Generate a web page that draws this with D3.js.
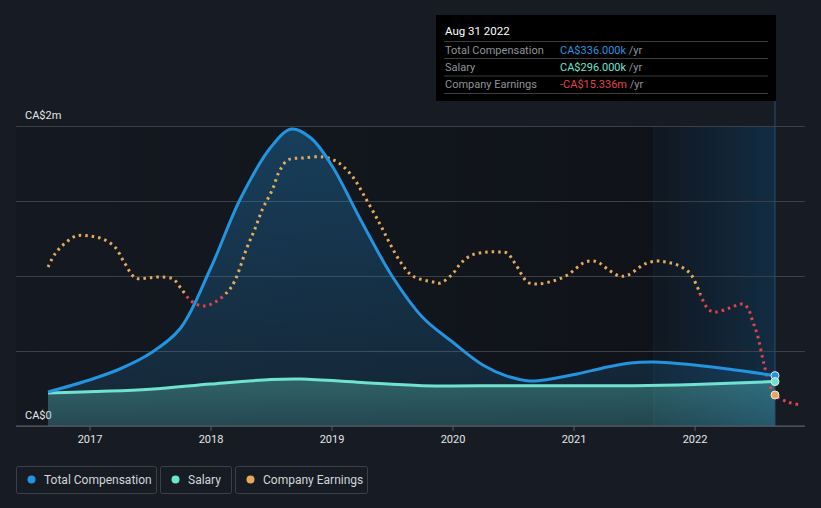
<!DOCTYPE html>
<html>
<head>
<meta charset="utf-8">
<script src="https://cdn.jsdelivr.net/npm/d3@7"></script>
<style>
  html, body { margin: 0; padding: 0; background: #161b24; }
  svg { display: block; font-family: Roboto, "Noto Sans", sans-serif; }
</style>
</head>
<body>
<svg id="chart" width="821" height="508"></svg>
<script>
// ---- data (years as decimal years, values in CA$ millions) ----
const yearTicks = [2017, 2018, 2019, 2020, 2021, 2022];
const yTickValues = [0, 0.5, 1, 1.5, 2];
const yTickLabels = ["CA$0", "", "", "", "CA$2m"];

const compTime = [2016.657, 2017.0, 2017.25, 2017.5, 2017.75, 2018.0, 2018.25, 2018.5, 2018.67, 2018.83, 2019.0, 2019.25, 2019.5, 2019.75, 2020.0, 2020.25, 2020.45, 2020.64, 2020.81, 2021.03, 2021.28, 2021.47, 2021.66, 2022.0, 2022.28, 2022.665];
const compValues = [0.227, 0.307, 0.38, 0.483, 0.65, 1.05, 1.52, 1.86, 1.98, 1.92, 1.74, 1.36, 1.0, 0.727, 0.56, 0.407, 0.333, 0.30, 0.313, 0.347, 0.393, 0.42, 0.427, 0.407, 0.38, 0.336];

const salaryTime = [2016.657, 2017.5, 2018.0, 2018.5, 2018.75, 2019.25, 2019.75, 2020.5, 2021.5, 2022.0, 2022.665];
const salaryValues = [0.22, 0.245, 0.28, 0.31, 0.313, 0.29, 0.269, 0.269, 0.269, 0.277, 0.296];

const earnTime = [2016.657, 2016.72, 2016.80, 2016.89, 2017.0, 2017.11, 2017.21, 2017.29, 2017.38, 2017.48, 2017.58, 2017.69, 2017.76, 2017.84, 2017.94, 2018.04, 2018.14, 2018.20, 2018.30, 2018.37, 2018.43, 2018.51, 2018.57, 2018.64, 2018.76, 2018.93, 2019.05, 2019.17, 2019.29, 2019.40, 2019.48, 2019.57, 2019.67, 2019.84, 2019.90, 2020.00, 2020.07, 2020.16, 2020.29, 2020.39, 2020.45, 2020.52, 2020.62, 2020.70, 2020.83, 2020.95, 2021.08, 2021.14, 2021.20, 2021.28, 2021.38, 2021.45, 2021.59, 2021.69, 2021.76, 2021.86, 2021.96, 2022.02, 2022.06, 2022.12, 2022.18, 2022.29, 2022.40, 2022.44, 2022.48, 2022.52, 2022.57, 2022.63, 2022.665, 2022.77, 2022.88];
const earnValues = [4.10, 6.23, 7.74, 8.81, 8.81, 8.35, 7.14, 4.71, 2.43, 2.43, 2.58, 2.28, 0.76, -1.06, -1.82, -1.21, 0.30, 1.97, 6.98, 10.02, 12.91, 15.79, 18.68, 20.35, 20.65, 20.80, 20.04, 17.92, 14.27, 10.63, 7.74, 4.86, 2.73, 1.82, 1.67, 3.04, 4.71, 5.92, 6.38, 6.38, 6.23, 4.56, 1.82, 1.52, 1.97, 2.88, 4.71, 5.01, 4.86, 3.80, 2.73, 2.88, 4.56, 5.01, 4.86, 4.40, 3.19, 1.21, -0.61, -2.43, -2.73, -2.13, -1.52, -2.13, -4.10, -6.23, -10.32, -14.27, -15.336, -16.40, -16.85];

const tooltipDate = "Aug 31 2022";
const tooltipLabels = ["Total Compensation", "Salary", "Company Earnings"];
const tooltipValues = ["CA$336.000k", "CA$296.000k", "-CA$15.336m"];
const legendLabels = ["Total Compensation", "Salary", "Company Earnings"];

// ---- styling ----
const C_COMP = "#2394df", C_SAL = "#6fe3d0", C_EARN = "#e8aa5a", C_NEG = "#e0434d";
const svg = d3.select("#chart");

const x = d3.scaleLinear().domain([2016.657, 2022.665]).range([48, 775]);
const y = d3.scaleLinear().domain([0, 2]).range([426, 126]);
const yE = d3.scaleLinear().domain([-15.336, 0]).range([395, 294]);

const comp = compTime.map((t, i) => ({t, v: compValues[i]}));
const sal = salaryTime.map((t, i) => ({t, v: salaryValues[i]}));
const earn = earnTime.map((t, i) => ({t, v: earnValues[i]}));

const defs = svg.append("defs");
const pastG = defs.append("linearGradient").attr("id", "pastG").attr("x1", 0).attr("x2", 1).attr("y1", 0).attr("y2", 0);
pastG.append("stop").attr("offset", 0).attr("stop-color", "#000").attr("stop-opacity", 0.08);
pastG.append("stop").attr("offset", 1).attr("stop-color", "#000").attr("stop-opacity", 0.35);

const hlG = defs.append("linearGradient").attr("id", "hlG").attr("x1", 0).attr("x2", 1).attr("y1", 0).attr("y2", 0);
hlG.append("stop").attr("offset", 0).attr("stop-color", "#1c6aa8").attr("stop-opacity", 0.05);
hlG.append("stop").attr("offset", 1).attr("stop-color", "#1c6aa8").attr("stop-opacity", 0.3);

const compG = defs.append("linearGradient").attr("id", "compG").attr("gradientUnits", "userSpaceOnUse")
  .attr("x1", 0).attr("x2", 0).attr("y1", y(2)).attr("y2", y(0));
compG.append("stop").attr("offset", 0).attr("stop-color", C_COMP).attr("stop-opacity", 0.32);
compG.append("stop").attr("offset", 1).attr("stop-color", C_COMP).attr("stop-opacity", 0.12);

const salG = defs.append("linearGradient").attr("id", "salG").attr("gradientUnits", "userSpaceOnUse")
  .attr("x1", 0).attr("x2", 0).attr("y1", y(0.3)).attr("y2", y(0));
salG.append("stop").attr("offset", 0).attr("stop-color", C_SAL).attr("stop-opacity", 0.3);
salG.append("stop").attr("offset", 1).attr("stop-color", C_SAL).attr("stop-opacity", 0.18);

const earnG = defs.append("linearGradient").attr("id", "earnG").attr("gradientUnits", "userSpaceOnUse")
  .attr("x1", 0).attr("x2", 0).attr("y1", yE(25)).attr("y2", yE(-20));
const zeroOff = (yE(0) - yE(25)) / (yE(-20) - yE(25));
earnG.append("stop").attr("offset", 0).attr("stop-color", C_EARN);
earnG.append("stop").attr("offset", zeroOff).attr("stop-color", C_EARN);
earnG.append("stop").attr("offset", zeroOff).attr("stop-color", C_NEG);
earnG.append("stop").attr("offset", 1).attr("stop-color", C_NEG);

// background regions
svg.append("rect").attr("x", 16).attr("y", y(2)).attr("width", x(2022.665) - 16).attr("height", y(0) - y(2)).attr("fill", "url(#pastG)");
const hlStart = 2021.665;
svg.append("rect").attr("x", x(hlStart)).attr("y", y(2)).attr("width", x(2022.665) - x(hlStart)).attr("height", y(0) - y(2)).attr("fill", "url(#hlG)");
svg.append("line").attr("x1", x(hlStart)).attr("x2", x(hlStart)).attr("y1", y(2)).attr("y2", y(0)).attr("stroke", "#18232f").attr("stroke-width", 1);

// gridlines
const grid = svg.append("g").attr("transform", "translate(16,0)")
  .call(d3.axisLeft(y).tickValues(yTickValues).tickSize(-(805 - 16)).tickFormat(""));
grid.select(".domain").remove();
grid.selectAll(".tick line").attr("stroke", "#3a3f48").attr("stroke-width", 1);

// y labels
svg.selectAll(".ylab").data(yTickValues.filter((d, i) => yTickLabels[i])).join("text")
  .attr("class", "ylab").attr("x", 25).attr("y", d => y(d) - 7)
  .attr("fill", "#e6e6e6").attr("font-size", 11)
  .text(d => yTickLabels[yTickValues.indexOf(d)]);

// areas
const curve = d3.curveCatmullRom.alpha(0.5);
const areaComp = d3.area().x(d => x(d.t)).y0(y(0)).y1(d => y(d.v)).curve(curve);
const areaSal = d3.area().x(d => x(d.t)).y0(y(0)).y1(d => y(d.v)).curve(curve);
svg.append("path").datum(comp).attr("d", areaComp).attr("fill", "url(#compG)");
svg.append("path").datum(sal).attr("d", areaSal).attr("fill", "url(#salG)");

// vertical marker line
svg.append("line").attr("x1", x(2022.665)).attr("x2", x(2022.665)).attr("y1", 101).attr("y2", y(0))
  .attr("stroke", "#2a4d6e").attr("stroke-width", 1);

// lines
const line = d3.line().x(d => x(d.t)).y(d => y(d.v)).curve(curve);
const lineE = d3.line().x(d => x(d.t)).y(d => yE(d.v)).curve(curve);
svg.append("path").datum(earn).attr("d", lineE).attr("fill", "none")
  .attr("stroke", "url(#earnG)").attr("stroke-width", 3).attr("stroke-dasharray", "2.5,4");
svg.append("path").datum(sal).attr("d", line).attr("fill", "none").attr("stroke", C_SAL).attr("stroke-width", 3);
svg.append("path").datum(comp).attr("d", line).attr("fill", "none").attr("stroke", C_COMP).attr("stroke-width", 3);

// x axis
const xa = svg.append("g").attr("transform", `translate(0,${y(0)})`)
  .call(d3.axisBottom(x).tickValues(yearTicks).tickFormat(d3.format("d")).tickSize(5).tickPadding(4));
xa.select(".domain").remove();
xa.selectAll(".tick line").attr("stroke", "#5a5f66");
xa.selectAll(".tick text").attr("fill", "#e6e6e6").attr("font-size", 11).attr("font-family", "Roboto, sans-serif");
svg.append("line").attr("x1", 16).attr("x2", 805).attr("y1", y(0)).attr("y2", y(0)).attr("stroke", "#5a5f66").attr("stroke-width", 1);

// end markers
const last = arr => arr[arr.length - 1];
const endE = earn.find(d => d.t === 2022.665);
svg.append("circle").attr("cx", x(endE.t)).attr("cy", yE(endE.v)).attr("r", 4).attr("fill", C_EARN).attr("stroke", "#e8e8e8").attr("stroke-width", 1);
svg.append("circle").attr("cx", x(last(comp).t)).attr("cy", y(last(comp).v)).attr("r", 4).attr("fill", C_COMP).attr("stroke", "#e8e8e8").attr("stroke-width", 1);
svg.append("circle").attr("cx", x(last(sal).t)).attr("cy", y(last(sal).v)).attr("r", 4).attr("fill", C_SAL).attr("stroke", "#e8e8e8").attr("stroke-width", 1);

// tooltip
const tt = svg.append("g");
tt.append("rect").attr("x", 436).attr("y", 15).attr("width", 340).attr("height", 86).attr("fill", "#000");
tt.append("text").attr("x", 445).attr("y", 35).attr("fill", "#fff").attr("font-size", 11.5).text(tooltipDate);
const rowY = [41, 58, 75.5, 93];
rowY.forEach(ry => tt.append("line").attr("x1", 444).attr("x2", 768).attr("y1", ry + 0.5).attr("y2", ry + 0.5).attr("stroke", "#3d3d3d"));
const vCols = [C_COMP, C_SAL, C_NEG];
tooltipLabels.forEach((lab, i) => {
  const by = rowY[i] + 12.5;
  tt.append("text").attr("x", 445).attr("y", by).attr("fill", "#8f949a").attr("font-size", 11).text(lab);
  const t = tt.append("text").attr("x", 560).attr("y", by).attr("font-size", 11);
  t.append("tspan").attr("fill", vCols[i]).text(tooltipValues[i]);
  t.append("tspan").attr("fill", "#8f949a").text(" /yr");
});

// legend
const legX = [16, 160, 235], legW = [140, 71, 132];
const legC = [C_COMP, C_SAL, C_EARN];
legendLabels.forEach((lab, i) => {
  const g = svg.append("g");
  g.append("rect").attr("x", legX[i] + 0.5).attr("y", 466.5).attr("width", legW[i]).attr("height", 27).attr("rx", 2)
    .attr("fill", "none").attr("stroke", "#3a3f48");
  g.append("circle").attr("cx", legX[i] + 15.5).attr("cy", 479.5).attr("r", 4).attr("fill", legC[i]);
  g.append("text").attr("x", legX[i] + 28).attr("y", 484).attr("fill", "#d4d6d9").attr("font-size", 12).text(lab);
});
</script>
</body>
</html>
